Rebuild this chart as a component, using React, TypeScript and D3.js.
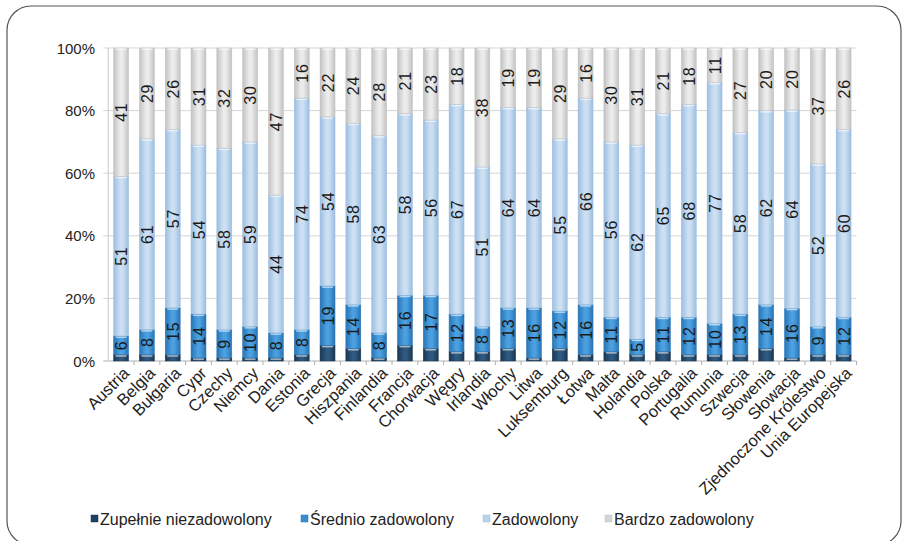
import React from "react";
import * as d3 from "d3";

const categories = ["Austria","Belgia","Bułgaria","Cypr","Czechy","Niemcy","Dania","Estonia","Grecja","Hiszpania","Finlandia","Francja","Chorwacja","Węgry","Irlandia","Włochy","Litwa","Luksemburg","Łotwa","Malta","Holandia","Polska","Portugalia","Rumunia","Szwecja","Słowenia","Słowacja","Zjednoczone Królestwo","Unia Europejska"];
const zupelnie = [2,2,2,1,1,1,1,2,5,4,1,5,4,3,3,4,1,4,2,3,2,3,2,2,2,4,1,2,2];
const srednio = [6,8,15,14,9,10,8,8,19,14,8,16,17,12,8,13,16,12,16,11,5,11,12,10,13,14,16,9,12];
const zadowolony = [51,61,57,54,58,59,44,74,54,58,63,58,56,67,51,64,64,55,66,56,62,65,68,77,58,62,64,52,60];
const bardzo = [41,29,26,31,32,30,47,16,22,24,28,21,23,18,38,19,19,29,16,30,31,21,18,11,27,20,20,37,26];
const seriesNames = ["Zupełnie niezadowolony","Średnio zadowolony","Zadowolony","Bardzo zadowolony"];
const yTicks = [0,0.2,0.4,0.6,0.8,1];

const colors = [
  { edge: "#1b3753", mid: "#2f5a80", sw: "#1f3f5f" },
  { edge: "#2774b5", mid: "#4ca0e0", sw: "#3a8ed0" },
  { edge: "#9cbee0", mid: "#cde0f3", sw: "#b8d3ec" },
  { edge: "#c2c2c2", mid: "#ececec", sw: "#d4d4d4" },
];

const FONT = "'Liberation Sans', Arial, sans-serif";

export default function App() {
  const W = 903, H = 541;
  const left = 108.2, right = 856.5, top = 48, bottom = 361;
  const x = d3.scaleBand().domain(categories).range([left, right]).paddingInner(0.42).paddingOuter(0.21);
  const y = d3.scaleLinear().domain([0, 1]).range([bottom, top]);
  const rows = categories.map((c, i) => {
    const vals = [zupelnie[i], srednio[i], zadowolony[i], bardzo[i]];
    const total = d3.sum(vals);
    const obj: any = { cat: c };
    vals.forEach((v, k) => (obj["s" + k] = v / total));
    obj.raw = vals;
    return obj;
  });
  const stack = d3.stack<any>().keys(["s0", "s1", "s2", "s3"]);
  const stacked = stack(rows);
  const step = x.step();
  const legendX = [91, 301, 483, 605];

  return (
    <svg width={W} height={H} style={{ position: "absolute", left: 0, top: 0, fontFamily: FONT }}>
      <defs>
        {colors.map((c, k) => (
          <linearGradient key={k} id={"g" + k} x1="0" x2="1" y1="0" y2="0">
            <stop offset="0" stopColor={c.edge} />
            <stop offset="0.45" stopColor={c.mid} />
            <stop offset="0.6" stopColor={c.mid} />
            <stop offset="1" stopColor={c.edge} />
          </linearGradient>
        ))}
      </defs>
      <rect x={0} y={0} width={W} height={H} fill="#fff" />
      <rect x={7} y={6} width={894} height={539} rx={24} ry={24} fill="none" stroke="#555" strokeWidth={1.2} />
      {yTicks.map((t) => (
        <g key={t}>
          <line x1={left - 5} x2={right} y1={y(t)} y2={y(t)} stroke={t === 0 ? "#b0b0b0" : "#d6d6d6"} strokeWidth={1} />
          <text x={95} y={y(t)} textAnchor="end" dominantBaseline="central" fontSize={15} fill="#222">{Math.round(t * 100) + "%"}</text>
        </g>
      ))}
      <line x1={left} x2={left} y1={top} y2={bottom} stroke="#c8c8c8" />
      {categories.map((c, i) => (
        <line key={"t" + i} x1={left + step * (i + 1)} x2={left + step * (i + 1)} y1={bottom} y2={bottom + 4} stroke="#b0b0b0" />
      ))}
      {stacked.map((s, k) => (
        <g key={k}>
          {s.map((d, i) => {
            const y0 = y(d[0]), y1 = y(d[1]);
            const bx = x(categories[i])!;
            const bw = x.bandwidth();
            return (
              <g key={i}>
                <rect x={bx} y={y1} width={bw} height={Math.max(0, y0 - y1)} fill={`url(#g${k})`} stroke={colors[k].edge} strokeWidth={0.5} />
                {y0 - y1 > 3 && <rect x={bx + 2} y={y1 + 0.5} width={bw - 4} height={1.5} fill="#ffffff" opacity={0.6} />}
              </g>
            );
          })}
        </g>
      ))}
      {stacked.map((s, k) =>
        k === 0 ? null : s.map((d, i) => {
          const cx = x(categories[i])! + x.bandwidth() / 2;
          const cy = (y(d[0]) + y(d[1])) / 2;
          return (
            <text key={k + "-" + i} transform={`translate(${cx + 0.5},${cy}) rotate(-90)`} textAnchor="middle" dominantBaseline="central" fontSize={16} letterSpacing={0.8} fill="#1a1a1a">
              {rows[i].raw[k]}
            </text>
          );
        })
      )}
      {categories.map((c, i) => {
        const cx = x(c)! + x.bandwidth() / 2;
        return (
          <text key={"l" + i} transform={`translate(${cx + 5},${bottom + 9}) rotate(-45)`} textAnchor="end" dominantBaseline="central" fontSize={16.5} fill="#222">
            {c}
          </text>
        );
      })}
      {seriesNames.map((n, k) => (
        <g key={"lg" + k}>
          <rect x={legendX[k]} y={515} width={7} height={7} fill={colors[k].sw} stroke={colors[k].edge} strokeWidth={0.5} />
          <text x={legendX[k] + 9} y={519} dominantBaseline="central" fontSize={16} fill="#222">{n}</text>
        </g>
      ))}
    </svg>
  );
}
